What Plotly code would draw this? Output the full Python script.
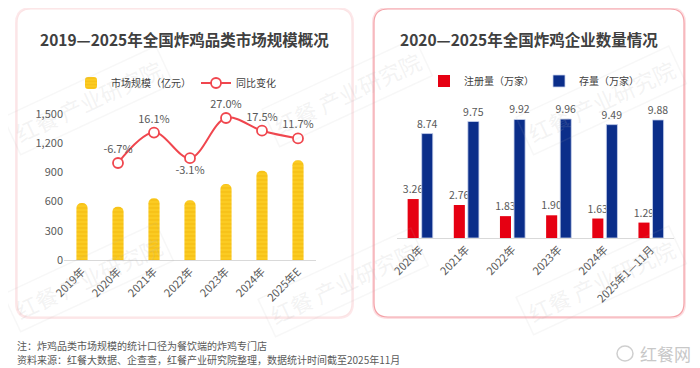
import plotly.graph_objects as go

# ---------------- data ----------------
years_left = ["2019年", "2020年", "2021年", "2022年", "2023年", "2024年", "2025年E"]
market_size = [585, 546, 634, 614, 780, 917, 1024]          # 亿元
yoy_change = [None, -6.7, 16.1, -3.1, 27.0, 17.5, 11.7]       # %
yoy_text = ["", "-6.7%", "16.1%", "-3.1%", "27.0%", "17.5%", "11.7%"]
yoy_pos = ["top center", "top center", "top center", "bottom center",
           "top center", "top center", "top center"]
left_ticks = [0, 300, 600, 900, 1200, 1500]

years_right = ["2020年", "2021年", "2022年", "2023年", "2024年", "2025年1—11月"]
registered = [3.26, 2.76, 1.83, 1.90, 1.63, 1.29]   # 万家
stock = [8.74, 9.75, 9.92, 9.96, 9.49, 9.88]        # 万家

# The page body has an 8px margin, so the figure starts 8px in from the
# window corner; size it so it reaches the window's right and bottom edges.
OFF = 8
W, H = 700 - OFF, 368 - OFF
FONT = "Noto Sans CJK SC"
GRAY = "#595959"
DARK = "#404040"


def px(x):
    """window pixel x -> paper fraction"""
    return (x - OFF) / W


def py(y):
    """window pixel y (from top) -> paper fraction"""
    return 1 - (y - OFF) / H


fig = go.Figure()

# ---------------- left chart ----------------
fig.add_trace(go.Bar(
    x=years_left, y=market_size, name="市场规模（亿元）",
    xaxis="x", yaxis="y", width=0.31,
    marker=dict(color="#f9c41c", cornerradius=5,
                line=dict(width=0),
                pattern=dict(shape="-", fgcolor="#eaa900", bgcolor="#fbcb22",
                             size=4, solidity=0.25)),
    legend="legend",
))
fig.add_trace(go.Scatter(
    x=years_left, y=yoy_change, name="同比变化",
    xaxis="x", yaxis="y2", mode="lines+markers+text",
    line=dict(color="#f0464e", width=2, shape="spline", smoothing=1.0),
    marker=dict(size=10, color="white", line=dict(color="#f0464e", width=1.8)),
    text=yoy_text, textposition=yoy_pos,
    textfont=dict(size=11, color=GRAY, family=FONT),
    cliponaxis=False, legend="legend",
))

# ---------------- right chart ----------------
fig.add_trace(go.Bar(
    x=years_right, y=registered, name="注册量（万家）",
    xaxis="x2", yaxis="y3", width=0.24, offset=-0.27,
    marker=dict(color="#e60012", line=dict(width=0)),
    text=[f"{v:.2f}" for v in registered], textposition="outside",
    constraintext="none",
    textfont=dict(size=10.5, color=GRAY, family=FONT),
    cliponaxis=False, legend="legend2",
))
fig.add_trace(go.Bar(
    x=years_right, y=stock, name="存量（万家）",
    xaxis="x2", yaxis="y3", width=0.24, offset=0.035,
    marker=dict(color="#0b2e8a", line=dict(width=0.8, color="#c9d3ee")),
    text=[f"{v:.2f}" for v in stock], textposition="outside",
    constraintext="none",
    textfont=dict(size=10.5, color=GRAY, family=FONT),
    cliponaxis=False, legend="legend2",
))

# ---------------- panel shapes ----------------
def rounded_rect(x0, y0, x1, y1, r=14):
    rx, ry = r / W, r / H
    X0, X1 = px(x0), px(x1)
    Yt, Yb = py(y0), py(y1)
    return (f"M {X0+rx} {Yt} L {X1-rx} {Yt} Q {X1} {Yt} {X1} {Yt-ry} "
            f"L {X1} {Yb+ry} Q {X1} {Yb} {X1-rx} {Yb} "
            f"L {X0+rx} {Yb} Q {X0} {Yb} {X0} {Yb+ry} "
            f"L {X0} {Yt-ry} Q {X0} {Yt} {X0+rx} {Yt} Z")

shapes = []
shapes.append(dict(type="path", xref="paper", yref="paper", layer="below",
                   path=rounded_rect(17, 9, 352, 317),
                   line=dict(color="rgba(248,190,195,0.35)", width=4)))
shapes.append(dict(type="path", xref="paper", yref="paper", layer="below",
                   path=rounded_rect(17, 9, 352, 317),
                   line=dict(color="#fbe3e4", width=1.2), fillcolor="white"))
shapes.append(dict(type="path", xref="paper", yref="paper", layer="below",
                   path=rounded_rect(374, 9, 684, 317),
                   line=dict(color="rgba(244,150,158,0.3)", width=4)))
shapes.append(dict(type="path", xref="paper", yref="paper", layer="below",
                   path=rounded_rect(374, 9, 684, 317),
                   line=dict(color="#f4a1a7", width=1.2), fillcolor="white"))
shapes.append(dict(type="circle", xref="paper", yref="paper",
                   x0=px(617), x1=px(633), y0=py(361), y1=py(346),
                   line=dict(color="#cfcfcf", width=1.5)))


def note(text, x, y, size, color, bold=False, xanchor="center", align="center"):
    return dict(text=f"<b>{text}</b>" if bold else text, x=px(x), y=py(y),
                xref="paper", yref="paper", showarrow=False,
                xanchor=xanchor, yanchor="middle", align=align,
                font=dict(size=size, color=color, family=FONT))


annotations = [
    note("2019—2025年全国炸鸡品类市场规模概况", 184, 39, 15.5, DARK, bold=True),
    note("2020—2025年全国炸鸡企业数量情况", 529, 39, 15.5, DARK, bold=True),
    note("注：炸鸡品类市场规模的统计口径为餐饮端的炸鸡专门店",
         15, 345.5, 10, GRAY, xanchor="left", align="left"),
    note("资料来源：红餐大数据、企查查，红餐产业研究院整理，数据统计时间截至2025年11月",
         15, 359.5, 10, GRAY, xanchor="left", align="left"),
    note("红餐网", 665, 353, 17, "#c8c8c8"),
]

# watermarks
for cx, cy in [(88, 100), (347, 92), (601, 100), (88, 277), (343, 282), (601, 280)]:
    annotations.append(dict(
        text="红餐 产业研究院", x=px(cx), y=py(cy), xref="paper", yref="paper",
        xanchor="center", yanchor="middle",
        showarrow=False, textangle=-25,
        font=dict(size=22, color="rgba(180,180,180,0.16)", family=FONT),
        bordercolor="rgba(180,180,180,0.10)", borderwidth=1.5, borderpad=4))

fig.update_layout(
    width=W, height=H, autosize=False,
    margin=dict(l=0, r=0, t=0, b=0, pad=0),
    paper_bgcolor="white", plot_bgcolor="rgba(0,0,0,0)",
    font=dict(family=FONT, color=GRAY, size=11),
    barmode="group",
    showlegend=True,
    shapes=shapes, annotations=annotations,
    xaxis=dict(domain=[px(64), px(316)], range=[-0.5, 6.5], anchor="y",
               showline=True, linecolor="#d9d9d9", linewidth=1,
               tickangle=-45, ticks="", showgrid=False, automargin=False,
               tickfont=dict(size=11, color=GRAY, family=FONT)),
    yaxis=dict(domain=[py(260), py(114)], range=[0, 1500], anchor="x",
               tickvals=left_ticks, tickformat=",", showgrid=False,
               zeroline=False, showline=False, ticks="", automargin=False,
               tickfont=dict(size=11, color=GRAY, family=FONT)),
    yaxis2=dict(overlaying="y", range=[-79.4, 30.0], visible=False,
                anchor="x"),
    xaxis2=dict(domain=[px(397), px(674)], range=[-0.5, 5.5], anchor="y3",
                showline=True, linecolor="#d9d9d9", linewidth=1,
                tickangle=-45, ticks="", showgrid=False, automargin=False,
                tickfont=dict(size=11, color=GRAY, family=FONT)),
    yaxis3=dict(domain=[py(238), py(100)], range=[0, 11.55], anchor="x2",
                visible=False),
    legend=dict(orientation="h", x=px(176), xanchor="center", y=py(83),
                yanchor="middle", bgcolor="rgba(0,0,0,0)",
                font=dict(size=10, color=DARK, family=FONT),
                itemwidth=30, tracegroupgap=0),
    legend2=dict(orientation="h", x=px(534), xanchor="center", y=py(81),
                 yanchor="middle", bgcolor="rgba(0,0,0,0)",
                 font=dict(size=10, color=DARK, family=FONT),
                 itemwidth=30),
)

fig.write_html("out.html")
